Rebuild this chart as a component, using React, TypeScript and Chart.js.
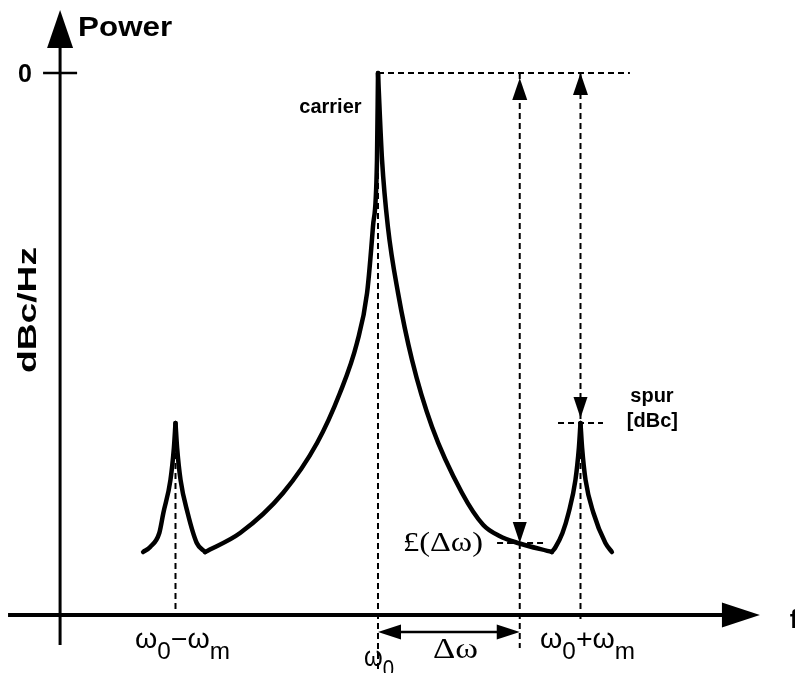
import React, { useEffect, useRef } from "react";
import { Chart, registerables } from "chart.js";

Chart.register(...registerables);

// Frequency in units of ωm, measured from the carrier ω0; power in dBc
const OMEGA0 = 0;
const OMEGA_M = 1;
const DELTA_OMEGA = 0.7;
const CARRIER_DB = 0;
const SPUR_DB = -70;
const L_DELTA_DB = -94;

// visible window of the two scales
const X_MIN = -1.8667;
const X_MAX = 2.0593;
const Y_MIN = -120;
const Y_MAX = 14.6;
const AXIS_F = -1.57; // frequency where the power axis stands
const AXIS_DB = -108.4; // level where the frequency axis lies

// spectrum segments (frequency, dBc)
const leftSpurRiseF = [-1.16, -1.125, -1.08, -1.06, -1.025, -1.008, -1];
const leftSpurRiseDb = [-95.8, -94.8, -92, -88, -81.4, -75, -70];
const leftSpurFallF = [-1, -0.992, -0.975, -0.94, -0.895, -0.854];
const leftSpurFallDb = [-70, -75, -81.4, -88, -94, -95.8];
const mainRiseF = [-0.854, -0.681, -0.469, -0.301, -0.188, -0.104, -0.054, -0.025, -0.005, 0];
const mainRiseDb = [-95.8, -92, -84, -74, -64, -54, -44, -30.8, -17.4, 0];
const mainFallF = [0, 0.02, 0.049, 0.099, 0.168, 0.267, 0.415, 0.52, 0.6, 0.691, 0.859];
const mainFallDb = [0, -17.4, -30.8, -44, -57.4, -70.8, -84, -90.4, -92.6, -94, -95.8];
const rightSpurRiseF = [0.859, 0.877, 0.911, 0.941, 0.975, 0.992, 1];
const rightSpurRiseDb = [-95.8, -94.8, -92, -88, -81.4, -75, -70];
const rightSpurFallF = [1, 1.008, 1.025, 1.064, 1.123, 1.155];
const rightSpurFallDb = [-70, -75, -81.4, -88, -94, -95.8];

// reference (dashed) line extents
const TOP_DASH_END_F = 1.244;
const SPUR_DASH_F = [0.889, 1.111];
const LDW_DASH_F = [0.588, 0.815];
const CARRIER_DASH_END_DB = -119.8;
const DELTA_DASH_END_DB = -115;
const RIGHT_DASH_END_DB = -109.5;

const seg = (fs: number[], dbs: number[]) => fs.map((f, i) => ({ x: f, y: dbs[i] }));

const curveStyle = {
  borderColor: "#000",
  borderWidth: 4.5,
  pointRadius: 0,
  fill: false,
  cubicInterpolationMode: "monotone" as const,
  borderCapStyle: "round" as const,
  borderJoinStyle: "round" as const,
  order: 0,
};
const dashStyle = {
  borderColor: "#000",
  borderWidth: 2,
  borderDash: [6, 4],
  pointRadius: 0,
  fill: false,
  tension: 0,
  order: 1,
};

type Run = { t: string; size: number; dy?: number; family?: string; weight?: string };

function drawRuns(ctx: CanvasRenderingContext2D, runs: Run[], cx: number, base: number, targetW?: number) {
  ctx.save();
  let total = 0;
  const ws = runs.map((r) => {
    ctx.font = `${r.weight || "normal"} ${r.size}px ${r.family || "'Liberation Sans', Arial, sans-serif"}`;
    const w = ctx.measureText(r.t).width;
    total += w;
    return w;
  });
  const sx = targetW ? targetW / total : 1;
  ctx.translate(cx, base);
  ctx.scale(sx, 1);
  let x = -total / 2;
  ctx.textBaseline = "alphabetic";
  ctx.textAlign = "left";
  runs.forEach((r, i) => {
    ctx.font = `${r.weight || "normal"} ${r.size}px ${r.family || "'Liberation Sans', Arial, sans-serif"}`;
    ctx.fillText(r.t, x, r.dy || 0);
    x += ws[i];
  });
  ctx.restore();
}

function arrowHead(ctx: CanvasRenderingContext2D, tx: number, ty: number, dx: number, dy: number, len: number, half: number) {
  const bx = tx - dx * len;
  const by = ty - dy * len;
  const px = -dy;
  const py = dx;
  ctx.beginPath();
  ctx.moveTo(tx, ty);
  ctx.lineTo(bx + px * half, by + py * half);
  ctx.lineTo(bx - px * half, by - py * half);
  ctx.closePath();
  ctx.fill();
}

const decorations = {
  id: "decorations",
  afterDatasetsDraw(chart: any) {
    const ctx: CanvasRenderingContext2D = chart.ctx;
    const X = (v: number) => chart.scales.x.getPixelForValue(v);
    const Y = (v: number) => chart.scales.y.getPixelForValue(v);
    ctx.save();
    ctx.fillStyle = "#000";
    ctx.strokeStyle = "#000";
    ctx.setLineDash([]);

    // power axis
    const ax = X(AXIS_F);
    ctx.lineWidth = 3;
    ctx.beginPath();
    ctx.moveTo(ax, Y(-114.4));
    ctx.lineTo(ax, Y(12.6) + 30);
    ctx.stroke();
    arrowHead(ctx, ax, Y(12.6), 0, -1, 38, 13);

    // frequency axis
    const ay = Y(AXIS_DB);
    ctx.lineWidth = 4;
    ctx.beginPath();
    ctx.moveTo(X(-1.827), ay);
    ctx.lineTo(X(1.886) - 30, ay);
    ctx.stroke();
    arrowHead(ctx, X(1.886), ay, 1, 0, 38, 12.5);

    // 0 dB tick
    ctx.lineWidth = 2.5;
    ctx.beginPath();
    ctx.moveTo(X(-1.654), Y(CARRIER_DB));
    ctx.lineTo(X(-1.486), Y(CARRIER_DB));
    ctx.stroke();

    // level arrows
    arrowHead(ctx, X(DELTA_OMEGA), Y(CARRIER_DB - 1), 0, -1, 22, 7.5);
    arrowHead(ctx, X(OMEGA0 + OMEGA_M), Y(CARRIER_DB), 0, -1, 22, 7.5);
    arrowHead(ctx, X(DELTA_OMEGA), Y(L_DELTA_DB), 0, 1, 21, 7);
    arrowHead(ctx, X(OMEGA0 + OMEGA_M), Y(SPUR_DB + 1), 0, 1, 21, 7);

    // Δω span arrow
    const dy = Y(-111.8);
    ctx.lineWidth = 2.5;
    ctx.beginPath();
    ctx.moveTo(X(OMEGA0) + 10, dy);
    ctx.lineTo(X(DELTA_OMEGA) - 10, dy);
    ctx.stroke();
    arrowHead(ctx, X(OMEGA0), dy, -1, 0, 23, 7.5);
    arrowHead(ctx, X(DELTA_OMEGA), dy, 1, 0, 23, 7.5);

    const SANS_B = "'Liberation Sans', Arial, sans-serif";
    const SERIF = "'Liberation Serif', 'Times New Roman', serif";

    // axis titles
    drawRuns(ctx, [{ t: "Power", size: 28, weight: "bold", family: SANS_B }], X(-1.481) + 47, Y(7.4), 94);
    drawRuns(ctx, [{ t: "0", size: 25, weight: "bold", family: SANS_B }], X(-1.743), Y(-1.8));
    drawRuns(ctx, [{ t: "f", size: 26, weight: "bold", family: SANS_B }], X(2.02) + 7, Y(-111));
    ctx.save();
    ctx.translate(X(-1.733), Y(-47.4));
    ctx.rotate(-Math.PI / 2);
    drawRuns(ctx, [{ t: "dBc/Hz", size: 25, weight: "bold", family: SANS_B }], 0, 9, 126);
    ctx.restore();

    // annotations
    drawRuns(ctx, [{ t: "carrier", size: 20, weight: "bold", family: SANS_B }], X(-0.235), Y(-8));
    drawRuns(ctx, [{ t: "spur", size: 20, weight: "bold", family: SANS_B }], X(1.353), Y(-65.8));
    drawRuns(ctx, [{ t: "[dBc]", size: 20, weight: "bold", family: SANS_B }], X(1.355), Y(-70.8));
    drawRuns(ctx, [{ t: "£(Δω)", size: 28, family: SERIF }], X(0.321), Y(-95.6), 80);

    // frequency labels
    const W = (t: string): Run => ({ t, size: 27 });
    const S = (t: string): Run => ({ t, size: 23, dy: 11 });
    drawRuns(ctx, [W("ω"), S("0"), W("−"), W("ω"), S("m")], X(-0.965), Y(-115), 95);
    drawRuns(ctx, [W("ω"), S("0")], X(0.005), Y(-118.6), 30);
    drawRuns(ctx, [{ t: "Δω", size: 29, family: SERIF }], X(0.383), Y(-117), 45);
    drawRuns(ctx, [W("ω"), S("0"), W("+"), W("ω"), S("m")], X(1.035), Y(-115), 95);

    ctx.restore();
  },
};

export default function App() {
  const canvasRef = useRef<HTMLCanvasElement | null>(null);

  useEffect(() => {
    const canvas = canvasRef.current;
    if (!canvas) return;
    const datasets: any[] = [
      { ...curveStyle, data: seg(leftSpurRiseF, leftSpurRiseDb) },
      { ...curveStyle, data: seg(leftSpurFallF, leftSpurFallDb) },
      { ...curveStyle, data: seg(mainRiseF, mainRiseDb) },
      { ...curveStyle, data: seg(mainFallF, mainFallDb) },
      { ...curveStyle, data: seg(rightSpurRiseF, rightSpurRiseDb) },
      { ...curveStyle, data: seg(rightSpurFallF, rightSpurFallDb) },
      { ...dashStyle, data: [{ x: OMEGA0 - OMEGA_M, y: SPUR_DB }, { x: OMEGA0 - OMEGA_M, y: AXIS_DB }] },
      { ...dashStyle, data: [{ x: OMEGA0, y: CARRIER_DB }, { x: OMEGA0, y: CARRIER_DASH_END_DB }] },
      { ...dashStyle, data: [{ x: DELTA_OMEGA, y: CARRIER_DB }, { x: DELTA_OMEGA, y: DELTA_DASH_END_DB }] },
      { ...dashStyle, data: [{ x: OMEGA0 + OMEGA_M, y: CARRIER_DB }, { x: OMEGA0 + OMEGA_M, y: RIGHT_DASH_END_DB }] },
      { ...dashStyle, data: [{ x: OMEGA0, y: CARRIER_DB }, { x: TOP_DASH_END_F, y: CARRIER_DB }] },
      { ...dashStyle, data: [{ x: SPUR_DASH_F[0], y: SPUR_DB }, { x: SPUR_DASH_F[1], y: SPUR_DB }] },
      { ...dashStyle, data: [{ x: LDW_DASH_F[0], y: L_DELTA_DB }, { x: LDW_DASH_F[1], y: L_DELTA_DB }] },
    ];
    const chart = new Chart(canvas, {
      type: "line",
      data: { datasets },
      options: {
        animation: false,
        responsive: false,
        devicePixelRatio: 1,
        layout: { padding: 0 },
        plugins: { legend: { display: false }, tooltip: { enabled: false } },
        scales: {
          x: { type: "linear", min: X_MIN, max: X_MAX, display: false },
          y: { type: "linear", min: Y_MIN, max: Y_MAX, display: false },
        },
      },
      plugins: [decorations],
    });
    return () => chart.destroy();
  }, []);

  return (
    <div style={{ position: "fixed", left: 0, top: 0, width: 795, height: 673, background: "#fff" }}>
      <canvas ref={canvasRef} width={795} height={673} style={{ display: "block" }} />
    </div>
  );
}
